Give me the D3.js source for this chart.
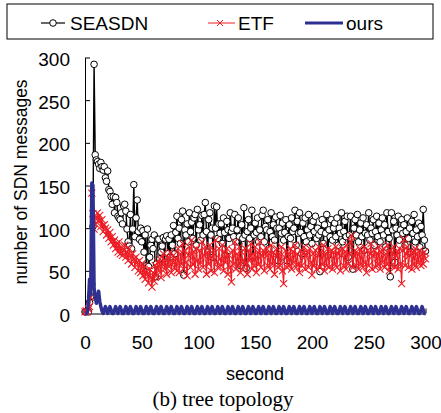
<!DOCTYPE html>
<html>
<head>
<meta charset="utf-8">
<script src="https://cdn.jsdelivr.net/npm/d3@7"></script>
<style>
body { margin: 0; background: #fff; }
svg { display: block; }
</style>
</head>
<body>
<svg id="chart"></svg>
<script>
// chart size
var width = 441;
var height = 413;

// messages per second, t = 0..300
var seasdn = [
    2, 2, 3, 2, 13, 20, 34, 102, 292, 186, 180, 178, 175, 170, 177, 172, 168, 172, 159, 155,
    167, 145, 143, 137, 128, 137, 118, 136, 130, 114, 112, 110, 118, 105, 126, 128, 120, 99, 84, 79,
    116, 76, 99, 151, 90, 112, 133, 96, 87, 100, 84, 97, 72, 92, 56, 99, 55, 66, 80, 87,
    76, 92, 43, 58, 87, 87, 64, 72, 79, 89, 60, 87, 91, 70, 87, 66, 92, 80, 103, 70,
    95, 114, 88, 100, 82, 110, 120, 45, 98, 92, 105, 84, 118, 96, 107, 88, 112, 116, 80, 122,
    98, 104, 86, 115, 92, 116, 130, 96, 72, 110, 118, 92, 100, 66, 126, 100, 125, 88, 105, 94,
    105, 82, 112, 95, 68, 108, 98, 88, 118, 96, 100, 90, 116, 84, 98, 112, 90, 56, 104, 88,
    124, 92, 53, 96, 110, 88, 100, 121, 66, 92, 106, 95, 112, 84, 98, 90, 115, 121, 84, 102,
    98, 110, 76, 96, 118, 90, 104, 86, 113, 100, 62, 100, 115, 94, 106, 86, 95, 110, 62, 90,
    104, 88, 112, 96, 100, 121, 80, 108, 94, 118, 95, 70, 106, 90, 112, 84, 98, 116, 92, 102,
    82, 108, 96, 114, 88, 100, 92, 49, 96, 110, 82, 104, 94, 116, 68, 98, 90, 110, 86, 100,
    106, 90, 112, 80, 100, 94, 118, 84, 96, 108, 90, 114, 66, 92, 114, 88, 52, 100, 110, 92,
    116, 84, 98, 106, 90, 112, 74, 94, 104, 92, 118, 86, 100, 94, 110, 80, 96, 114, 90, 106,
    84, 98, 112, 92, 104, 78, 118, 96, 88, 43, 118, 98, 108, 60, 100, 92, 114, 86, 98, 110,
    94, 104, 80, 96, 112, 88, 100, 72, 108, 94, 116, 84, 98, 90, 106, 78, 102, 92, 122, 86,
    73
];

var etf = [
    2, 3, 2, 5, 8, 19, 141, 117, 99, 105, 112, 118, 108, 115, 102, 110, 96, 104, 100, 92,
    98, 88, 95, 84, 90, 80, 86, 76, 82, 72, 84, 70, 78, 68, 74, 80, 66, 72, 62, 76,
    68, 58, 70, 64, 54, 66, 60, 50, 62, 48, 58, 44, 56, 40, 50, 46, 36, 52, 42, 31,
    48, 38, 56, 44, 60, 50, 64, 42, 58, 70, 52, 62, 46, 66, 55, 72, 48, 60, 68, 54,
    64, 50, 76, 48, 70, 58, 82, 52, 74, 60, 44, 68, 78, 54, 86, 58, 72, 46, 76, 62,
    52, 74, 60, 84, 54, 68, 78, 46, 72, 58, 80, 50, 66, 74, 48, 86, 60, 54, 76, 64,
    56, 80, 50, 72, 60, 76, 46, 68, 54, 37, 74, 58, 84, 52, 70, 56, 78, 48, 72, 62,
    54, 76, 60, 46, 74, 62, 82, 52, 70, 56, 78, 48, 72, 58, 84, 54, 68, 74, 50, 70,
    76, 56, 70, 52, 80, 58, 72, 46, 68, 76, 54, 70, 56, 78, 50, 35, 66, 74, 54, 70,
    56, 76, 52, 72, 60, 80, 54, 70, 58, 48, 74, 56, 70, 78, 52, 68, 72, 54, 76, 60,
    45, 70, 56, 74, 52, 68, 78, 54, 72, 58, 80, 50, 70, 56, 76, 54, 68, 74, 52, 72,
    58, 78, 54, 70, 74, 50, 68, 76, 56, 72, 52, 80, 58, 70, 84, 91, 54, 68, 74, 56,
    70, 52, 76, 58, 72, 54, 78, 60, 48, 74, 56, 70, 82, 52, 68, 74, 54, 70, 58, 78,
    52, 72, 60, 76, 54, 70, 58, 80, 50, 74, 56, 70, 78, 54, 68, 72, 52, 76, 58, 35,
    74, 87, 56, 70, 78, 54, 68, 74, 52, 72, 58, 76, 54, 70, 60, 74, 56, 70, 58, 72,
    64
];

var ours = [
    0, 0, 1, 12, 40, 22, 153, 150, 30, 20, 12, 18, 26, 14, 8, 3,
    0, 4, 8, 4, 0, 4, 8, 4, 0, 0, 4, 8, 4, 0, 4, 8, 4, 0,
    0, 4, 8, 4, 0, 4, 8, 4, 0, 0, 4, 8, 4, 0, 4, 8, 4, 0,
    0, 4, 8, 4, 0, 4, 8, 4, 0, 0, 4, 8, 4, 0, 4, 8, 4, 0,
    0, 4, 8, 4, 0, 4, 8, 4, 0, 0, 4, 8, 4, 0, 4, 8, 4, 0,
    0, 4, 8, 4, 0, 4, 8, 4, 0, 0, 4, 8, 4, 0, 4, 8, 4, 0,
    0, 4, 8, 4, 0, 4, 8, 4, 0, 0, 4, 8, 4, 0, 4, 8, 4, 0,
    0, 4, 8, 4, 0, 4, 8, 4, 0, 0, 4, 8, 4, 0, 4, 8, 4, 0,
    0, 4, 8, 4, 0, 4, 8, 4, 0, 0, 4, 8, 4, 0, 4, 8, 4, 0,
    0, 4, 8, 4, 0, 4, 8, 4, 0, 0, 4, 8, 4, 0, 4, 8, 4, 0,
    0, 4, 8, 4, 0, 4, 8, 4, 0, 0, 4, 8, 4, 0, 4, 8, 4, 0,
    0, 4, 8, 4, 0, 4, 8, 4, 0, 0, 4, 8, 4, 0, 4, 8, 4, 0,
    0, 4, 8, 4, 0, 4, 8, 4, 0, 0, 4, 8, 4, 0, 4, 8, 4, 0,
    0, 4, 8, 4, 0, 4, 8, 4, 0, 0, 4, 8, 4, 0, 4, 8, 4, 0,
    0, 4, 8, 4, 0, 4, 8, 4, 0, 0, 4, 8, 4, 0, 4, 8, 4, 0,
    0, 4, 8, 4, 0, 4, 8, 4, 0, 0, 4, 8, 4, 0, 4, 8, 4, 0,
    0, 4, 8, 4, 0, 4, 8, 4, 0,
    0, 4, 8, 4, 0, 0
];

var seriesNames = ["SEASDN", "ETF", "ours"];
var xTicks = [0, 50, 100, 150, 200, 250, 300];
var yTicks = [0, 50, 100, 150, 200, 250, 300];

var red = "#ed1c24";
var navy = "#2e3192";
var font = "'Liberation Sans', Arial, sans-serif";

var svg = d3.select("#chart")
    .attr("width", width)
    .attr("height", height)
    .style("font-family", font);

var x = d3.scaleLinear().domain([0, 300]).range([85, 425.5]);
var y = d3.scaleLinear().domain([0, 300]).range([313.5, 57.5]);

// axes, ticks point inward
var yAxis = svg.append("g")
    .attr("transform", "translate(85,0)")
    .call(d3.axisLeft(y).tickValues(yTicks).tickSizeInner(-5).tickSizeOuter(0).tickPadding(15));

var xAxis = svg.append("g")
    .attr("transform", "translate(0,313.5)")
    .call(d3.axisBottom(x).tickValues(xTicks).tickSizeInner(-5).tickSizeOuter(0).tickPadding(22));

[xAxis, yAxis].forEach(function (a) {
    a.attr("font-family", null).attr("font-size", null);
    a.selectAll("text")
        .style("font-family", font)
        .style("font-size", "19px")
        .attr("fill", "#000");
    a.selectAll("line, path").attr("stroke", "#000");
});
yAxis.selectAll("text").attr("dy", "0.42em");

function lineOf(arr) {
    return d3.line()
        .x(function (d, i) { return x(i); })
        .y(function (d) { return y(d); })(arr);
}

// SEASDN
svg.append("path")
    .attr("d", lineOf(seasdn))
    .attr("fill", "none")
    .attr("stroke", "#000")
    .attr("stroke-width", 1.4);

svg.append("g").selectAll("circle")
    .data(seasdn)
    .enter()
    .append("circle")
    .attr("cx", function (d, i) { return x(i); })
    .attr("cy", function (d) { return y(d); })
    .attr("r", 3.3)
    .attr("fill", "#fff")
    .attr("stroke", "#000")
    .attr("stroke-width", 1);

// ETF
svg.append("path")
    .attr("d", lineOf(etf))
    .attr("fill", "none")
    .attr("stroke", red)
    .attr("stroke-width", 1.1);

var cross = "M-3.5,-3.5L3.5,3.5M-3.5,3.5L3.5,-3.5";
svg.append("g").selectAll("path")
    .data(etf)
    .enter()
    .append("path")
    .attr("d", cross)
    .attr("transform", function (d, i) { return "translate(" + x(i) + "," + y(d) + ")"; })
    .attr("stroke", red)
    .attr("stroke-width", 1.1)
    .attr("fill", "none");

// ours
svg.append("path")
    .attr("d", lineOf(ours))
    .attr("fill", "none")
    .attr("stroke", navy)
    .attr("stroke-width", 3.5)
    .attr("stroke-linejoin", "round");

// axis labels
svg.append("text")
    .attr("transform", "translate(27,182) rotate(-90)")
    .attr("text-anchor", "middle")
    .style("font-size", "17.5px")
    .text("number of SDN messages");

svg.append("text")
    .attr("x", 255)
    .attr("y", 380)
    .attr("text-anchor", "middle")
    .style("font-size", "18px")
    .text("second");

svg.append("text")
    .attr("x", 223)
    .attr("y", 406)
    .attr("text-anchor", "middle")
    .style("font-family", "'Liberation Serif', 'Times New Roman', serif")
    .style("font-size", "21px")
    .text("(b) tree topology");

// legend
var legend = svg.append("g");
legend.append("rect")
    .attr("x", 7).attr("y", 4)
    .attr("width", 426).attr("height", 35)
    .attr("fill", "#fff")
    .attr("stroke", "#000")
    .attr("stroke-width", 1);

var legendItems = [
    { x1: 41, x2: 65, tx: 70 },
    { x1: 208, x2: 235, tx: 238 },
    { x1: 305, x2: 343, tx: 346 }
];
var legendY = 23;

legend.selectAll("line.key")
    .data(legendItems)
    .enter()
    .append("line")
    .attr("class", "key")
    .attr("x1", function (d) { return d.x1; })
    .attr("x2", function (d) { return d.x2; })
    .attr("y1", legendY).attr("y2", legendY)
    .attr("stroke", function (d, i) { return [ "#000", red, navy ][i]; })
    .attr("stroke-width", function (d, i) { return [1.2, 1, 3][i]; });

legend.append("circle")
    .attr("cx", 53).attr("cy", legendY).attr("r", 3.3)
    .attr("fill", "#fff").attr("stroke", "#000");
legend.append("path")
    .attr("d", "M-3,-3L3,3M-3,3L3,-3")
    .attr("transform", "translate(220," + legendY + ")")
    .attr("stroke", red).attr("fill", "none");

legend.selectAll("text")
    .data(legendItems)
    .enter()
    .append("text")
    .attr("x", function (d) { return d.tx; })
    .attr("y", 30)
    .style("font-size", "19px")
    .text(function (d, i) { return seriesNames[i]; });
</script>
</body>
</html>
